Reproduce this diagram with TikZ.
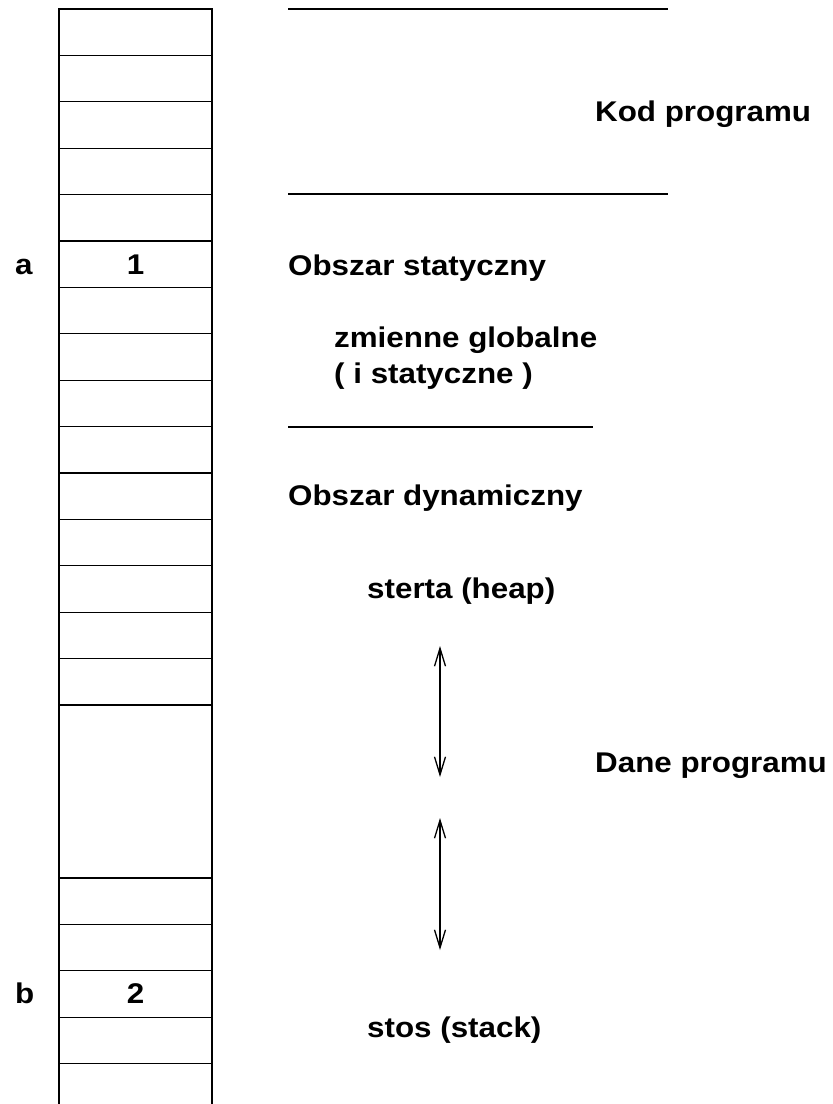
\documentclass[tikz,border=0pt]{standalone}
\usepackage{fontspec}
\setmainfont{Liberation Sans}[FakeStretch=1.1]
\usetikzlibrary{arrows.meta}
\begin{document}
\begin{tikzpicture}[x=1pt,y=-1pt,
  lbl/.style={anchor=base west,inner sep=0pt,font=\fontsize{28.5}{30}\selectfont\bfseries},
  num/.style={anchor=base,inner sep=0pt,font=\fontsize{28.5}{30}\selectfont\bfseries},
  cell/.style={draw,line width=1.3pt},
  rule/.style={line width=1.3pt},
  dbl/.style={line width=1.3pt,{Straight Barb[length=18pt,width=11pt,line width=1.3pt]}-{Straight Barb[length=18pt,width=11pt,line width=1.3pt]}}]
\useasboundingbox (0,0) rectangle (833,1104);
% memory column
\foreach \i in {0,...,14} {
  \draw[cell] (59,{9+\i*46.4}) rectangle (212,{9+(\i+1)*46.4});
}
\draw[cell] (59,705) rectangle (212,878);
\foreach \i in {0,...,3} {
  \draw[cell] (59,{878+\i*46.4}) rectangle (212,{878+(\i+1)*46.4});
}
\draw[line width=1.3pt] (59,1063.6) -- (59,1110);
\draw[line width=1.3pt] (212,1063.6) -- (212,1110);
% labels in column
\node[num] (one) at (135.5,274) {1};
\node[num] (two) at (135.5,1003) {2};
\node[lbl] (a) at (15,274) {a};
\node[lbl] (b) at (15,1003) {b};
% separator lines
\coordinate (l1a) at (288,9); \coordinate (l1b) at (668,9);
\coordinate (l2a) at (288,194); \coordinate (l2b) at (668,194);
\coordinate (l3a) at (288,427); \coordinate (l3b) at (593,427);
\draw[rule] (l1a) -- (l1b);
\draw[rule] (l2a) -- (l2b);
\draw[rule] (l3a) -- (l3b);
% texts
\node[lbl] (kod) at (595,121) {Kod programu};
\node[lbl] (stat) at (288,275) {Obszar statyczny};
\node[lbl] (zm) at (334,347) {zmienne globalne};
\node[lbl] (ist) at (334,383) {( i statyczne )};
\node[lbl] (dyn) at (288,505) {Obszar dynamiczny};
\node[lbl] (heap) at (367,598) {sterta (heap)};
\node[lbl] (dane) at (595,772) {Dane programu};
\node[lbl] (stos) at (367,1037) {stos (stack)};
% arrows
\coordinate (a1t) at (440,646); \coordinate (a1b) at (440,777);
\coordinate (a2t) at (440,818); \coordinate (a2b) at (440,950);
\draw[dbl] (a1t) -- (a1b);
\draw[dbl] (a2t) -- (a2b);
\end{tikzpicture}
\end{document}
